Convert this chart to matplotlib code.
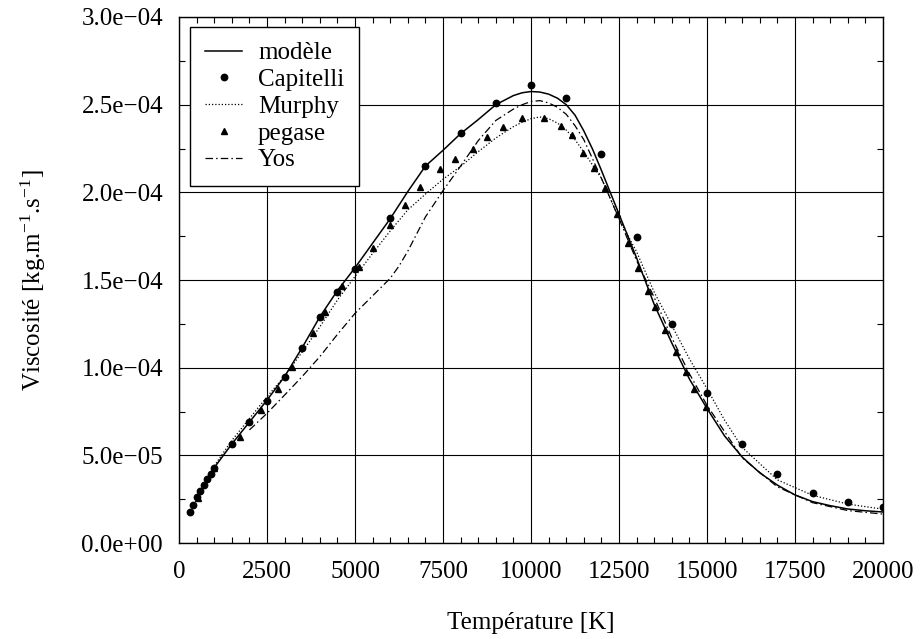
import matplotlib
matplotlib.use("Agg")
import matplotlib.pyplot as plt
from matplotlib.ticker import MultipleLocator, FuncFormatter

# ---------------- data ----------------
modele_T = [1000, 1500, 2000, 2500, 3000, 3500, 4000, 4500, 5000, 5500, 6000, 6500,
            7000, 7500, 8000, 8500, 9000, 9500, 9750, 10000, 10250, 10500, 10750,
            11000, 11250, 11500, 11750, 12000, 12500, 13000, 13500, 14000, 14500,
            15000, 15500, 16000, 16500, 17000, 17500, 18000, 18500, 19000, 19500, 20000]
modele_v = [0.43, 0.565, 0.69, 0.815, 0.95, 1.115, 1.29, 1.44, 1.57, 1.71, 1.85, 2.005,
            2.15, 2.24, 2.335, 2.415, 2.50, 2.552, 2.568, 2.575, 2.572, 2.56, 2.537,
            2.50, 2.44, 2.35, 2.245, 2.125, 1.875, 1.625, 1.36, 1.14, 0.935,
            0.767, 0.61, 0.49, 0.40, 0.33, 0.274, 0.236, 0.213, 0.194, 0.184, 0.177]

capitelli_T = [300, 400, 500, 600, 700, 800, 900, 1000, 1500, 2000, 2500, 3000, 3500,
               4000, 4500, 5000, 6000, 7000, 8000, 9000, 10000, 11000, 12000, 13000,
               14000, 15000, 16000, 17000, 18000, 19000, 20000]
capitelli_v = [0.175, 0.218, 0.26, 0.298, 0.331, 0.363, 0.395, 0.426, 0.565, 0.69, 0.81,
               0.947, 1.114, 1.287, 1.433, 1.563, 1.855, 2.15, 2.337, 2.508, 2.612,
               2.538, 2.217, 1.746, 1.249, 0.857, 0.566, 0.395, 0.287, 0.236, 0.205]

murphy_T = [1000, 1500, 2000, 2500, 3000, 3500, 4000, 4500, 5000, 5500, 6000, 6500,
            7000, 7500, 8000, 8500, 9000, 9500, 9750, 10000, 10250, 10500, 10750,
            11000, 11250, 11500, 12000, 12500, 13000, 13500, 14000, 14500, 15000,
            15500, 16000, 17000, 18000, 19000, 20000]
murphy_v = [0.44, 0.585, 0.71, 0.834, 0.953, 1.09, 1.233, 1.386, 1.52, 1.652, 1.78, 1.90,
            1.99, 2.075, 2.148, 2.232, 2.31, 2.375, 2.40, 2.42, 2.43, 2.42, 2.395,
            2.355, 2.30, 2.23, 2.08, 1.85, 1.66, 1.43, 1.24, 1.05, 0.88,
            0.70, 0.545, 0.36, 0.272, 0.222, 0.193]

pegase_T = [550, 1000, 1740, 2330, 2810, 3200, 3800, 4150, 4630, 5110, 5510, 5990,
            6420, 6850, 7400, 7840, 8340, 8760, 9190, 9750, 10380, 10850, 11170,
            11490, 11790, 12110, 12430, 12760, 13050, 13320, 13530, 13810, 14110,
            14400, 14630, 14970]
pegase_v = [0.255, 0.43, 0.606, 0.759, 0.879, 1.003, 1.196, 1.319, 1.466, 1.576, 1.684,
            1.814, 1.928, 2.03, 2.131, 2.188, 2.247, 2.314, 2.371, 2.426, 2.426, 2.38,
            2.327, 2.226, 2.137, 2.023, 1.879, 1.713, 1.571, 1.439, 1.346, 1.215,
            1.091, 0.977, 0.878, 0.774]

yos_T = [2000, 2500, 3000, 3500, 4000, 4500, 5000, 5500, 6000, 6250, 6500, 7000, 7500,
         8000, 8500, 9000, 9500, 9750, 10000, 10250, 10500, 10750, 11000, 11250, 11500,
         11750, 12000, 12500, 13000, 13500, 14000, 14500, 15000, 16000, 17000, 18000,
         19000, 20000]
yos_v = [0.645, 0.74, 0.844, 0.95, 1.063, 1.19, 1.31, 1.41, 1.51, 1.58, 1.665, 1.86,
         2.01, 2.15, 2.295, 2.41, 2.475, 2.50, 2.518, 2.523, 2.51, 2.485, 2.445, 2.38,
         2.30, 2.19, 2.08, 1.85, 1.61, 1.40, 1.17, 0.965, 0.785, 0.485, 0.32, 0.23,
         0.185, 0.165]

SCALE = 1e-4
series_labels = ["modèle", "Capitelli", "Murphy", "pegase", "Yos"]

# ---------------- style ----------------
plt.rcParams['font.family'] = ['Liberation Serif', 'DejaVu Serif']
plt.rcParams['font.size'] = 18
plt.rcParams['mathtext.fontset'] = 'custom'
plt.rcParams['mathtext.rm'] = 'Liberation Serif'
plt.rcParams['mathtext.it'] = 'Liberation Serif:italic'
plt.rcParams['mathtext.bf'] = 'Liberation Serif:bold'

fig = plt.figure(figsize=(9.21, 6.39), dpi=100)
ax = fig.add_axes([0.1944, 0.1502, 0.7644, 0.8232])

def sc(v):
    return [x * SCALE for x in v]

ax.plot(modele_T, sc(modele_v), color='black', lw=1.1, ls='-', label=series_labels[0], zorder=3)
ax.plot(capitelli_T, sc(capitelli_v), ls='none', marker='o', ms=4.6, color='black',
        label=series_labels[1], zorder=4)
ax.plot(murphy_T, sc(murphy_v), color='black', lw=0.9, ls=(0, (1, 1.6)),
        label=series_labels[2], zorder=3)
ax.plot(pegase_T, sc(pegase_v), ls='none', marker='^', ms=4.0, color='black',
        label=series_labels[3], zorder=4)
ax.plot(yos_T, sc(yos_v), color='black', lw=0.9, ls=(0, (6, 2.5, 1.2, 2.5)),
        label=series_labels[4], zorder=3)

ax.set_xlim(0, 20000)
ax.set_ylim(0, 3e-4)
ax.xaxis.set_major_locator(MultipleLocator(2500))
ax.xaxis.set_minor_locator(MultipleLocator(500))
ax.yaxis.set_major_locator(MultipleLocator(5e-5))
ax.yaxis.set_minor_locator(MultipleLocator(2.5e-5))

def yfmt(v, pos):
    return ("%.1e" % v).replace('-', '\u2212')

ax.yaxis.set_major_formatter(FuncFormatter(yfmt))

ax.grid(True, which='major', color='black', lw=0.8)
ax.tick_params(which='both', direction='in', top=True, right=True, colors='black')
ax.tick_params(which='major', length=0)
ax.tick_params(which='minor', length=4, width=0.8)
ax.tick_params(axis='x', which='major', pad=13, labelsize=18)
ax.tick_params(axis='y', which='major', pad=11.5, labelsize=18)
for s in ax.spines.values():
    s.set_linewidth(1.0)
    s.set_color('black')

ax.set_xlabel("Température [K]")
ax.xaxis.set_label_coords(0.5, -0.132)
ax.set_ylabel("Viscosité [kg.m$^{-1}$.s$^{-1}$]")
ax.yaxis.set_label_coords(-0.186, 0.5)

leg = ax.legend(loc='upper left', bbox_to_anchor=(0.0156, 0.981), borderaxespad=0,
                frameon=True, fancybox=False, edgecolor='black', framealpha=1,
                borderpad=0.6, labelspacing=0.17, handlelength=1.48, handletextpad=0.64,
                fontsize=18)
leg.get_frame().set_linewidth(1.0)

fig.savefig("out.png", dpi=100)
